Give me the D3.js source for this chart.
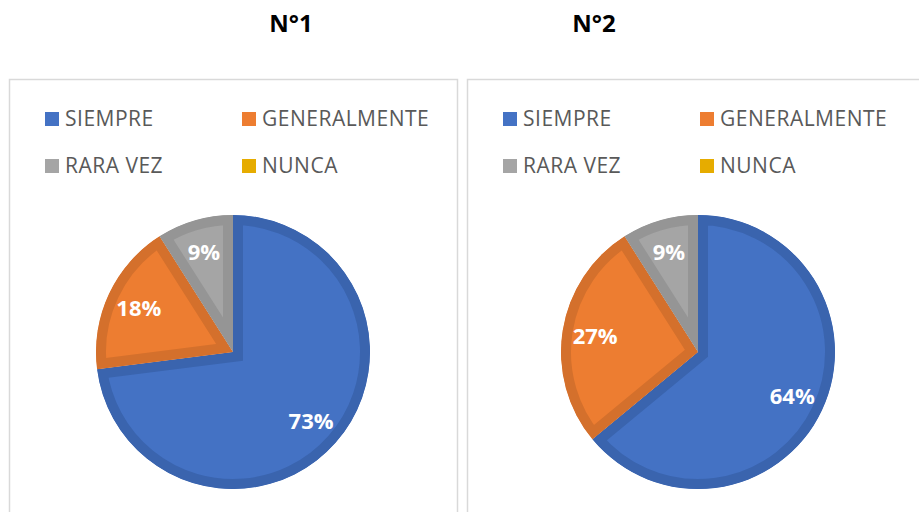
<!DOCTYPE html>
<html>
<head>
<meta charset="utf-8">
<script src="https://cdn.jsdelivr.net/npm/d3@7"></script>
<style>
  body { margin: 0; background: #fff; }
  svg { display: block; }
</style>
</head>
<body>
<svg width="919" height="512"></svg>
<script>
// categories and values (percent)
var categories = ["SIEMPRE", "GENERALMENTE", "RARA VEZ", "NUNCA"];
var titles = ["N°1", "N°2"];
var values1 = [73, 18, 9, 0];
var values2 = [64, 27, 9, 0];

var fills = ["#4472C4", "#ED7D31", "#A5A5A5", "#E6AC00"];
var borders = ["#3A64AE", "#D4702C", "#959595", "#CC9900"];

var svg = d3.select("svg"),
    width = +svg.attr("width"),
    height = +svg.attr("height");

var defs = svg.append("defs");

var color = d3.scaleOrdinal().domain(categories).range(fills);
var border = d3.scaleOrdinal().domain(categories).range(borders);

var pie = d3.pie()
    .sort(null)
    .value(function(d) { return d.value; });

var charts = [
    { title: titles[0], values: values1, panel: [9, 79, 448, 460], titleX: 291, cx: 233, cy: 352 },
    { title: titles[1], values: values2, panel: [467, 79, 470, 460], titleX: 594, cx: 698, cy: 352 }
];

var r = 137;
var arc = d3.arc().innerRadius(0).outerRadius(r);
var labelArc = d3.arc().innerRadius(r * 0.76).outerRadius(r * 0.76);

charts.forEach(function(c, ci) {
    // title
    svg.append("text")
        .attr("x", c.titleX)
        .attr("y", 32)
        .attr("text-anchor", "middle")
        .style("font-family", "'Noto Sans', sans-serif")
        .style("font-weight", "bold")
        .style("font-size", "24px")
        .style("fill", "#000")
        .text(c.title);

    // panel frame
    svg.append("rect")
        .attr("x", c.panel[0] + 0.5)
        .attr("y", c.panel[1] + 0.5)
        .attr("width", c.panel[2])
        .attr("height", c.panel[3])
        .attr("fill", "#fff")
        .attr("stroke", "#d9d9d9")
        .attr("stroke-width", 1.5);

    // legend, 2 columns
    var lx = c.panel[0] + 36,
        colW = 197;
    var legend = svg.append("g")
        .selectAll("g")
        .data(categories)
        .enter().append("g")
            .attr("transform", function(d, i) {
                return "translate(" + (lx + (i % 2) * colW) + "," + (112 + Math.floor(i / 2) * 47) + ")";
            });

    legend.append("rect")
        .attr("width", 14)
        .attr("height", 14)
        .attr("fill", function(d) { return color(d); });

    legend.append("text")
        .attr("x", 20)
        .attr("y", 14)
        .style("font-family", "'Open Sans', sans-serif")
        .style("font-size", "21px")
        .style("letter-spacing", "0.5px")
        .style("fill", "#595959")
        .text(function(d) { return d; });

    // pie
    var data = categories.map(function(k, i) { return { key: k, value: c.values[i] }; });
    var arcs = pie(data).filter(function(d) { return d.value > 0; });

    var g = svg.append("g")
        .attr("transform", "translate(" + c.cx + "," + c.cy + ")");

    // each slice clipped to itself so the thick stroke sits inside it
    arcs.forEach(function(d, i) {
        defs.append("clipPath")
            .attr("id", "clip" + ci + "_" + i)
            .append("path")
            .attr("d", arc(d));
    });

    g.selectAll("path.slice")
        .data(arcs)
        .enter().append("path")
            .attr("class", "slice")
            .attr("d", arc)
            .attr("fill", function(d) { return color(d.data.key); })
            .attr("stroke", function(d) { return border(d.data.key); })
            .attr("stroke-width", 20)
            .attr("stroke-linejoin", "miter")
            .attr("clip-path", function(d, i) { return "url(#clip" + ci + "_" + i + ")"; });

    g.selectAll("text.lbl")
        .data(arcs)
        .enter().append("text")
            .attr("class", "lbl")
            .attr("transform", function(d) { return "translate(" + labelArc.centroid(d) + ")"; })
            .attr("text-anchor", "middle")
            .attr("dy", "0.36em")
            .style("font-family", "'Open Sans', sans-serif")
            .style("font-weight", "bold")
            .style("font-size", "22px")
            .style("fill", "#fff")
            .text(function(d) { return d.data.value + "%"; });
});
</script>
</body>
</html>
